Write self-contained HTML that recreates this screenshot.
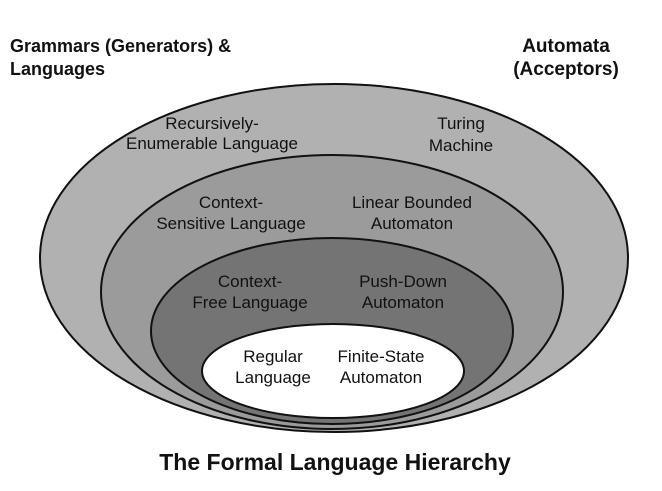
<!DOCTYPE html>
<html><head><style>body{margin:0;background:#fff}svg{display:block}text{font-family:"Liberation Sans",Arial,sans-serif;}</style></head>
<body>
<svg width="662" height="491" viewBox="0 0 662 491" xmlns="http://www.w3.org/2000/svg">
<ellipse cx="334" cy="258" rx="294" ry="174" fill="#b1b1b1" stroke="#111" stroke-width="2"/>
<ellipse cx="332" cy="292" rx="231" ry="137" fill="#9b9b9b" stroke="#111" stroke-width="2"/>
<ellipse cx="332" cy="331" rx="181" ry="93" fill="#747474" stroke="#111" stroke-width="2"/>
<ellipse cx="333" cy="371" rx="131" ry="47" fill="#fff" stroke="#111" stroke-width="2"/>
<g font-size="17" fill="#111" text-anchor="middle">
<text x="212" y="129">Recursively-</text><text x="212" y="149">Enumerable Language</text>
<text x="461" y="129">Turing</text><text x="461" y="151">Machine</text>
<text x="231" y="208">Context-</text><text x="231" y="229">Sensitive Language</text>
<text x="412" y="208">Linear Bounded</text><text x="412" y="229">Automaton</text>
<text x="250" y="287">Context-</text><text x="250" y="308">Free Language</text>
<text x="403" y="287">Push-Down</text><text x="403" y="308">Automaton</text>
<text x="273" y="362">Regular</text><text x="273" y="383">Language</text>
<text x="381" y="362">Finite-State</text><text x="381" y="383">Automaton</text>
</g>
<g font-size="18" font-weight="bold" fill="#111">
<text x="10" y="52">Grammars (Generators) &amp;</text>
<text x="10" y="75">Languages</text>
<text x="566" y="52" text-anchor="middle" font-size="19">Automata</text>
<text x="566" y="75" text-anchor="middle" font-size="19">(Acceptors)</text>
</g>
<text x="335" y="470" font-size="23" font-weight="bold" text-anchor="middle" fill="#111">The Formal Language Hierarchy</text>
</svg>
</body></html>
